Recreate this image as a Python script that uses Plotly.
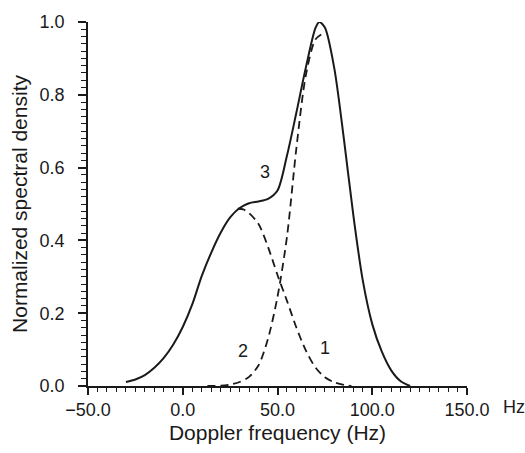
import plotly.graph_objects as go

# Solid curve 3 (total spectrum)
x3 = [-30, -25, -20, -15, -10, -5, 0, 5, 10, 15, 20, 25, 30, 35, 40, 45, 50, 55, 60, 65, 70, 72,
      75, 80, 85, 90, 95, 100, 105, 110, 115, 120]
y3 = [0.011, 0.018, 0.030, 0.050, 0.077, 0.114, 0.162, 0.224, 0.302, 0.366, 0.421, 0.463, 0.489, 0.502, 0.507,
      0.514, 0.537, 0.633, 0.752, 0.876, 0.983, 1.0, 0.985, 0.872, 0.680, 0.470, 0.290, 0.170, 0.095, 0.043, 0.013, 0.0]

# Dashed curve 1 (first component)
x1 = [29, 32, 35, 40, 45, 50, 55, 60, 65, 70, 75, 80, 85, 89]
y1 = [0.487, 0.485, 0.475, 0.445, 0.382, 0.305, 0.234, 0.160, 0.097, 0.051, 0.024, 0.010, 0.003, 0.0]

# Dashed curve 2 (second component)
x2 = [13, 20, 25, 30, 35, 40, 45, 50, 55, 60, 65, 70, 73.5]
y2 = [0.0, 0.001, 0.004, 0.011, 0.025, 0.057, 0.130, 0.245, 0.410, 0.655, 0.855, 0.952, 0.967]

# Curve labels
lab_text = ["3", "2", "1"]
lab_x = [43.5, 32.0, 75.0]
lab_y = [0.588, 0.097, 0.105]

xticks = [-50, 0, 50, 100, 150]
yticks = [0.0, 0.2, 0.4, 0.6, 0.8, 1.0]

FONT = "Liberation Sans, Arial, sans-serif"
INK = "#1a1a1a"

fig = go.Figure()
dash_line = dict(color=INK, width=1.8, dash="8px,5px", shape="spline", smoothing=0.8)
fig.add_trace(go.Scatter(x=x1, y=y1, mode="lines", line=dash_line, hoverinfo="skip", showlegend=False))
fig.add_trace(go.Scatter(x=x2, y=y2, mode="lines", line=dash_line, hoverinfo="skip", showlegend=False))
fig.add_trace(go.Scatter(x=x3, y=y3, mode="lines", line=dict(color=INK, width=2, shape="spline", smoothing=0.8),
                         hoverinfo="skip", showlegend=False))

for t, xx, yy in zip(lab_text, lab_x, lab_y):
    fig.add_annotation(x=xx, y=yy, xref="x", yref="y", text=t, showarrow=False,
                       font=dict(family=FONT, size=18, color=INK))

fig.add_annotation(x=1.09, y=-0.057, xref="paper", yref="paper", text="Hz", showarrow=False,
                   xanchor="left", yanchor="middle",
                   font=dict(family=FONT, size=18, color=INK))

fig.update_xaxes(range=[-50, 150], tickvals=xticks, ticktext=[f"{v:.1f}".replace("-", "\u2212") for v in xticks],
                 showline=True, linecolor=INK, linewidth=1.5, ticks="outside", ticklen=7, tickwidth=1.5,
                 tickcolor=INK, showgrid=False, zeroline=False,
                 minor=dict(dtick=5, ticks="outside", ticklen=4, tickwidth=1.2, tickcolor=INK, showgrid=False),
                 tickfont=dict(family=FONT, size=18, color=INK),
                 title=dict(text="Doppler frequency (Hz)", font=dict(family=FONT, size=21, color=INK), standoff=6))
fig.update_yaxes(range=[0, 1.0], tickvals=yticks, ticktext=[f"{v:.1f}" for v in yticks],
                 showline=True, linecolor=INK, linewidth=1.5, ticks="outside", ticklen=8, tickwidth=1.5,
                 tickcolor=INK, showgrid=False, zeroline=False, ticklabelstandoff=10,
                 minor=dict(dtick=0.02, ticks="outside", ticklen=5, tickwidth=1.2, tickcolor=INK, showgrid=False),
                 tickfont=dict(family=FONT, size=18, color=INK),
                 title=dict(text="Normalized spectral density", font=dict(family=FONT, size=21, color=INK), standoff=6))

fig.update_layout(width=525, height=453, margin=dict(l=88, r=58, t=15, b=64),
                  plot_bgcolor="white", paper_bgcolor="white")

fig.write_html("out.html")
